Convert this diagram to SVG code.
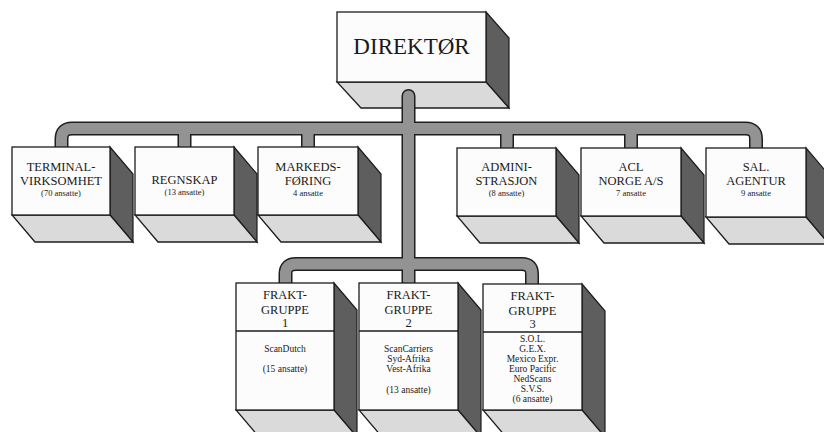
<svg xmlns="http://www.w3.org/2000/svg" width="824" height="432" viewBox="0 0 824 432">
<style>
.front{fill:#fcfcfc;stroke:#1c1c1c;stroke-width:1.3}
.side{fill:#5e5e5e;stroke:#1c1c1c;stroke-width:1.2}
.bottom{fill:#dadada;stroke:#1c1c1c;stroke-width:1.3}
.div{stroke:#1c1c1c;stroke-width:1.3}
.co{fill:none;stroke:#1e1e1e;stroke-width:14;stroke-linecap:round;stroke-linejoin:round}
.ci{fill:none;stroke:#939393;stroke-width:11;stroke-linecap:round;stroke-linejoin:round}
text{font-family:"Liberation Serif","Times New Roman",serif;fill:#1a1a1a;text-anchor:middle}
.big{font-size:23px}
.t{font-size:12.5px}
.s{font-size:8.5px}
.f{font-size:9.5px}
</style>
<rect width="824" height="432" fill="#ffffff"/>

<g id="direktor">
<polygon class="side" points="486,12 509,38 509,108 486,82"/>
<polygon class="bottom" points="337,82 486,82 509,108 361,108"/>
<rect class="front" x="337" y="12" width="149" height="70"/>
<text class="big" x="411.5" y="54">DIREKTØR</text>
</g>

<g id="connectors">
<path class="co" d="M408.5,96 V283"/>
<path class="co" d="M61.5,150 V139 Q61.5,128.5 72,128.5 H745.5 Q756,128.5 756,139 V150 M184.5,128.5 V150 M308,128.5 V150 M507,128.5 V150 M631,128.5 V150"/>
<path class="co" d="M285.5,286 V274 Q285.5,264 296,264 H522 Q532,264 532,274 V286"/>
<path class="ci" d="M408.5,96 V283"/>
<path class="ci" d="M61.5,150 V139 Q61.5,128.5 72,128.5 H745.5 Q756,128.5 756,139 V150 M184.5,128.5 V150 M308,128.5 V150 M507,128.5 V150 M631,128.5 V150"/>
<path class="ci" d="M285.5,286 V274 Q285.5,264 296,264 H522 Q532,264 532,274 V286"/>
</g>

<g id="terminal">
<polygon class="side" points="110,147 133,174 133,242 110,215"/>
<polygon class="bottom" points="12,215 110,215 133,242 35,242"/>
<rect class="front" x="12" y="147" width="98" height="68"/>
<text class="t" x="61" y="171">TERMINAL-</text>
<text class="t" x="61" y="185">VIRKSOMHET</text>
<text class="s" x="61" y="196">(70 ansatte)</text>
</g>

<g id="regnskap">
<polygon class="side" points="234,147 257,174 257,242 234,215"/>
<polygon class="bottom" points="135,215 234,215 257,242 158,242"/>
<rect class="front" x="135" y="147" width="99" height="68"/>
<text class="t" x="184.5" y="184">REGNSKAP</text>
<text class="s" x="184.5" y="195">(13 ansatte)</text>
</g>

<g id="markedsforing">
<polygon class="side" points="358,147 381,174 381,242 358,215"/>
<polygon class="bottom" points="258,215 358,215 381,242 281,242"/>
<rect class="front" x="258" y="147" width="100" height="68"/>
<text class="t" x="308" y="171">MARKEDS-</text>
<text class="t" x="308" y="185">FØRING</text>
<text class="s" x="308" y="196">4 ansatte</text>
</g>

<g id="administrasjon">
<polygon class="side" points="556,148 579,175 579,243 556,216"/>
<polygon class="bottom" points="457,216 556,216 579,243 480,243"/>
<rect class="front" x="457" y="148" width="99" height="68"/>
<text class="t" x="506.5" y="171">ADMINI-</text>
<text class="t" x="506.5" y="185">STRASJON</text>
<text class="s" x="506.5" y="196">(8 ansatte)</text>
</g>

<g id="acl">
<polygon class="side" points="681,148 704,175 704,243 681,216"/>
<polygon class="bottom" points="581,216 681,216 704,243 604,243"/>
<rect class="front" x="581" y="148" width="100" height="68"/>
<text class="t" x="631" y="171">ACL</text>
<text class="t" x="631" y="185">NORGE A/S</text>
<text class="s" x="631" y="196">7 ansatte</text>
</g>

<g id="salagentur">
<polygon class="side" points="806,148 829,175 829,244 806,217"/>
<polygon class="bottom" points="706,217 806,217 829,244 729,244"/>
<rect class="front" x="706" y="148" width="100" height="69"/>
<text class="t" x="756" y="171">SAL.</text>
<text class="t" x="756" y="185">AGENTUR</text>
<text class="s" x="756" y="196">9 ansatte</text>
</g>

<g id="fraktgruppe1">
<polygon class="side" points="334,283 357,310 357,437 334,410"/>
<polygon class="bottom" points="236,410 334,410 357,437 259,437"/>
<rect class="front" x="236" y="283" width="98" height="127"/>
<line class="div" x1="236" y1="331" x2="334" y2="331"/>
<text class="t" x="285" y="299">FRAKT-</text>
<text class="t" x="285" y="313.5">GRUPPE</text>
<text class="t" x="285" y="327">1</text>
<text class="f" x="285" y="352">ScanDutch</text>
<text class="f" x="285" y="372">(15 ansatte)</text>
</g>

<g id="fraktgruppe2">
<polygon class="side" points="458,283 481,310 481,437 458,410"/>
<polygon class="bottom" points="359,410 458,410 481,437 382,437"/>
<rect class="front" x="359" y="283" width="99" height="127"/>
<line class="div" x1="359" y1="331" x2="458" y2="331"/>
<text class="t" x="408.5" y="299">FRAKT-</text>
<text class="t" x="408.5" y="313.5">GRUPPE</text>
<text class="t" x="408.5" y="327">2</text>
<text class="f" x="408.5" y="352">ScanCarriers</text>
<text class="f" x="408.5" y="362">Syd-Afrika</text>
<text class="f" x="408.5" y="372">Vest-Afrika</text>
<text class="f" x="408.5" y="393">(13 ansatte)</text>
</g>

<g id="fraktgruppe3">
<polygon class="side" points="582,284 605,311 605,437 582,410"/>
<polygon class="bottom" points="483,410 582,410 605,437 506,437"/>
<rect class="front" x="483" y="284" width="99" height="126"/>
<line class="div" x1="483" y1="332" x2="582" y2="332"/>
<text class="t" x="532.5" y="300">FRAKT-</text>
<text class="t" x="532.5" y="314.5">GRUPPE</text>
<text class="t" x="532.5" y="328">3</text>
<text class="f" x="532.5" y="342">S.O.L.</text>
<text class="f" x="532.5" y="352">G.E.X.</text>
<text class="f" x="532.5" y="362">Mexico Expr.</text>
<text class="f" x="532.5" y="372">Euro Pacific</text>
<text class="f" x="532.5" y="382">NedScans</text>
<text class="f" x="532.5" y="392">S.V.S.</text>
<text class="f" x="532.5" y="402">(6 ansatte)</text>
</g>
</svg>
